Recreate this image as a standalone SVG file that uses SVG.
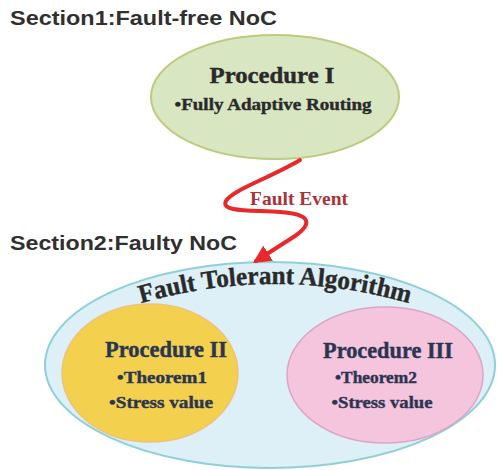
<svg xmlns="http://www.w3.org/2000/svg" width="497" height="470" viewBox="0 0 497 470">
  <style>
    .sec { font-family: "Liberation Sans", "DejaVu Sans", sans-serif; font-weight: bold; font-size: 21px; fill: #303030; }
    .ser { font-family: "Liberation Serif", "DejaVu Serif", serif; font-weight: bold; }
    .title { font-size: 24px; }
    .item { font-size: 17px; }
    .navy { fill: #2b3552; stroke: #2b3552; stroke-width: 0.4; }
    .dark { fill: #2a2a2a; stroke: #2a2a2a; stroke-width: 0.4; }
  </style>
  <defs>
    <marker id="arrow" viewBox="0 0 10 10" refX="8" refY="5" markerWidth="4.5" markerHeight="4.5" markerUnits="strokeWidth" orient="auto">
      <path d="M0,0 L10,5 L0,10 Z" fill="#e8282a"/>
    </marker>
    <path id="arc" d="M 132,306 Q 275,262 418,306"/>
  </defs>

  <text class="sec" x="10" y="25" textLength="267" lengthAdjust="spacingAndGlyphs">Section1:Fault-free NoC</text>
  <text class="sec" x="10" y="250" textLength="227" lengthAdjust="spacingAndGlyphs">Section2:Faulty NoC</text>

  <g id="procedure1">
    <ellipse cx="275" cy="97" rx="124" ry="62" fill="#d9e6c2" stroke="#bccb7e" stroke-width="2"/>
    <text class="ser title dark" x="272" y="83" text-anchor="middle" textLength="125" lengthAdjust="spacingAndGlyphs">Procedure I</text>
    <text class="ser item dark" x="273" y="110" text-anchor="middle" textLength="197" lengthAdjust="spacingAndGlyphs">•Fully Adaptive Routing</text>
  </g>

  <g id="fault-tolerant">
    <ellipse cx="270" cy="365" rx="225" ry="103" fill="#ddf0f8" stroke="#8fd0d8" stroke-width="2"/>
    <text class="ser dark" font-size="26"><textPath href="#arc" startOffset="50%" text-anchor="middle" textLength="272" lengthAdjust="spacingAndGlyphs">Fault Tolerant Algorithm</textPath></text>
  </g>

  <g id="procedure2">
    <ellipse cx="150" cy="373" rx="88" ry="69" fill="#f3d14e" stroke="#eec27a" stroke-width="1.5"/>
    <text class="ser title navy" x="166" y="357" text-anchor="middle" textLength="122" lengthAdjust="spacingAndGlyphs">Procedure II</text>
    <text class="ser item navy" x="162" y="383" text-anchor="middle" textLength="90" lengthAdjust="spacingAndGlyphs">•Theorem1</text>
    <text class="ser item navy" x="161" y="408" text-anchor="middle" textLength="104" lengthAdjust="spacingAndGlyphs">•Stress value</text>
  </g>

  <g id="procedure3">
    <ellipse cx="385" cy="375" rx="98" ry="68" fill="#f5c4dd" stroke="#dba6c4" stroke-width="1.5"/>
    <text class="ser title navy" x="388" y="358" text-anchor="middle" textLength="130" lengthAdjust="spacingAndGlyphs">Procedure III</text>
    <text class="ser item navy" x="376" y="383" text-anchor="middle" textLength="82" lengthAdjust="spacingAndGlyphs">•Theorem2</text>
    <text class="ser item navy" x="382" y="408" text-anchor="middle" textLength="101" lengthAdjust="spacingAndGlyphs">•Stress value</text>
  </g>

  <g id="connectors">
    <path d="M 300,160 C 270,178 232,190 226,201 C 220,212 250,210 280,212 C 312,214 312,224 295,236 L 256,261" fill="none" stroke="#e8282a" stroke-width="4" stroke-linecap="round" stroke-linejoin="round" marker-end="url(#arrow)"/>
    <text class="ser" x="250" y="205" font-size="19" fill="#a8343a" textLength="98" lengthAdjust="spacingAndGlyphs">Fault Event</text>
  </g>
</svg>
